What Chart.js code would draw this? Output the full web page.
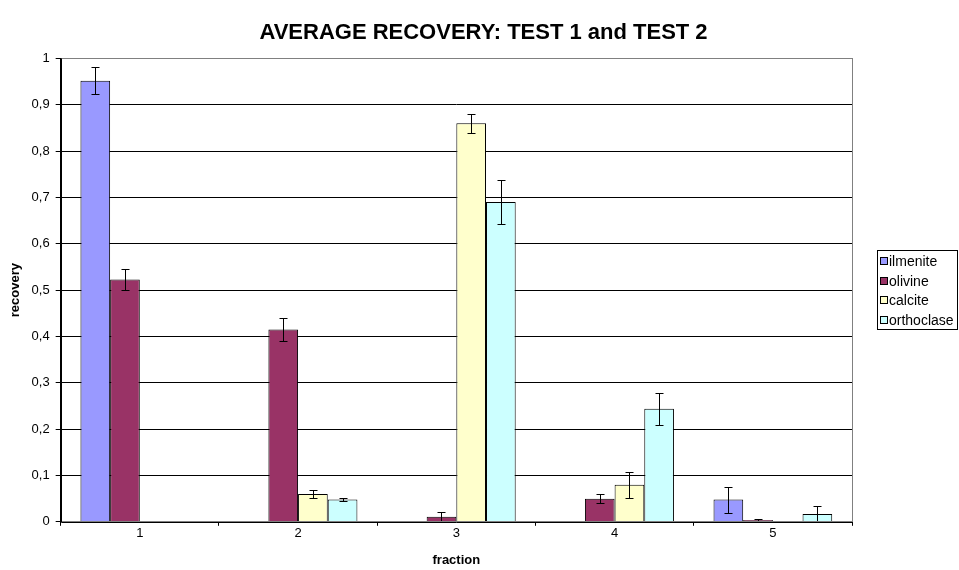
<!DOCTYPE html>
<html>
<head>
<meta charset="utf-8">
<script src="https://cdn.jsdelivr.net/npm/chart.js@4/dist/chart.umd.min.js"></script>
<style>
  body { margin: 0; background: #fff; }
  #wrap { width: 959px; height: 570px; }
</style>
</head>
<body>
<div id="wrap"><canvas id="chart" width="959" height="570"></canvas></div>
<script>
const fractions = ['1', '2', '3', '4', '5'];
const ilmenite = [0.952, 0, 0, 0, 0.048];
const olivine = [0.523, 0.415, 0.011, 0.050, 0.004];
const calcite = [0, 0.060, 0.860, 0.080, 0];
const orthoclase = [0, 0.048, 0.690, 0.244, 0.017];
const ilmeniteErr = [0.029, 0, 0, 0, 0.028];
const olivineErr = [0.023, 0.025, 0.010, 0.010, 0.002];
const calciteErr = [0, 0.008, 0.020, 0.028, 0];
const orthoclaseErr = [0, 0.004, 0.048, 0.035, 0.017];

const FONT = 'Arial, "Liberation Sans", sans-serif';

function makeSet(label, data, err, color) {
    return {
        label: label,
        data: data,
        errors: err,
        backgroundColor: color,
        borderColor: '#000',
        borderWidth: 1,
        borderSkipped: 'bottom'
    };
}

// error bars from each dataset's errors array
const errorBars = {
    id: 'errorBars',
    afterDatasetsDraw(chart) {
        const ctx = chart.ctx;
        const y = chart.scales.y;
        ctx.save();
        ctx.strokeStyle = '#000';
        ctx.lineWidth = 1;
        chart.data.datasets.forEach((ds, di) => {
            const meta = chart.getDatasetMeta(di);
            meta.data.forEach((bar, i) => {
                const e = ds.errors[i];
                if (!e) return;
                const v = ds.data[i];
                const x = Math.round(bar.x) + 0.5;
                const yt = Math.round(y.getPixelForValue(v + e)) + 0.5;
                const yb = Math.round(y.getPixelForValue(Math.max(v - e, 0))) + 0.5;
                ctx.beginPath();
                ctx.moveTo(x, yt); ctx.lineTo(x, yb);
                ctx.moveTo(x - 4, yt); ctx.lineTo(x + 4, yt);
                ctx.moveTo(x - 4, yb); ctx.lineTo(x + 4, yb);
                ctx.stroke();
            });
        });
        ctx.restore();
    }
};

// white background, plot frame and a boxed legend on the right
const frames = {
    id: 'frames',
    beforeDraw(chart) {
        const ctx = chart.ctx;
        ctx.save();
        ctx.fillStyle = '#fff';
        ctx.fillRect(0, 0, chart.width, chart.height);
        ctx.restore();
    },
    afterDraw(chart) {
        const ctx = chart.ctx;
        const a = chart.chartArea;
        ctx.save();
        ctx.lineWidth = 1;
        ctx.strokeStyle = '#808080';
        ctx.strokeRect(Math.round(a.left) + 0.5, Math.round(a.top) + 0.5, Math.round(a.right - a.left), Math.round(a.bottom - a.top));
        ctx.strokeStyle = '#000';
        ctx.beginPath();
        ctx.moveTo(Math.round(a.left) + 0.5, a.top);
        ctx.lineTo(Math.round(a.left) + 0.5, Math.round(a.bottom) + 0.5);
        ctx.lineTo(a.right, Math.round(a.bottom) + 0.5);
        ctx.stroke();

        const lx = 877, ly = 250, lw = 80, lh = 79;
        ctx.strokeRect(lx + 0.5, ly + 0.5, lw, lh);
        ctx.font = '14px ' + FONT;
        ctx.textBaseline = 'middle';
        chart.data.datasets.forEach((ds, i) => {
            const cy = ly + 11 + i * 19.7;
            ctx.fillStyle = ds.backgroundColor;
            ctx.fillRect(lx + 3, Math.round(cy - 4), 8, 8);
            ctx.strokeStyle = '#000';
            ctx.strokeRect(lx + 3.5, Math.round(cy - 4) + 0.5, 7, 7);
            ctx.fillStyle = '#000';
            ctx.fillText(ds.label, lx + 12, cy + 1);
        });
        ctx.restore();
    }
};

new Chart(document.getElementById('chart').getContext('2d'), {
    type: 'bar',
    data: {
        labels: fractions,
        datasets: [
            makeSet('ilmenite', ilmenite, ilmeniteErr, '#9999FF'),
            makeSet('olivine', olivine, olivineErr, '#993366'),
            makeSet('calcite', calcite, calciteErr, '#FFFFCC'),
            makeSet('orthoclase', orthoclase, orthoclaseErr, '#CCFFFF')
        ]
    },
    options: {
        responsive: false,
        animation: false,
        layout: { padding: { left: 8, right: 0, top: 8, bottom: 0 } },
        datasets: { bar: { barPercentage: 1, categoryPercentage: 0.75 } },
        plugins: {
            legend: { display: false },
            title: {
                display: true,
                text: 'AVERAGE RECOVERY: TEST 1 and TEST 2',
                color: '#000',
                font: { family: FONT, size: 22, weight: 'bold' },
                padding: { top: 12, bottom: 12 }
            },
            tooltip: { enabled: false }
        },
        scales: {
            x: {
                grid: { display: true, drawOnChartArea: false, offset: true, tickLength: 4, color: '#000' },
                border: { color: '#000' },
                ticks: { color: '#000', font: { family: FONT, size: 13 }, padding: 0 },
                title: { display: true, text: 'fraction', color: '#000', font: { family: FONT, size: 13, weight: 'bold' }, padding: { top: 11, bottom: 2 } }
            },
            y: {
                min: 0,
                max: 1,
                grid: { color: '#000', tickLength: 5 },
                border: { color: '#000' },
                ticks: {
                    stepSize: 0.1,
                    color: '#000',
                    font: { family: FONT, size: 13 },
                    padding: 6,
                    callback: v => (Math.round(v * 10) / 10).toString().replace('.', ',')
                },
                title: { display: true, text: 'recovery', color: '#000', font: { family: FONT, size: 13, weight: 'bold' }, padding: { top: 0, bottom: 2 } }
            },
            // empty right-hand axis that keeps room for the legend box
            spacer: {
                position: 'right',
                display: true,
                grid: { display: false },
                border: { display: false },
                ticks: { display: false },
                afterFit: s => { s.width = 107; }
            }
        }
    },
    plugins: [errorBars, frames]
});
</script>
</body>
</html>
